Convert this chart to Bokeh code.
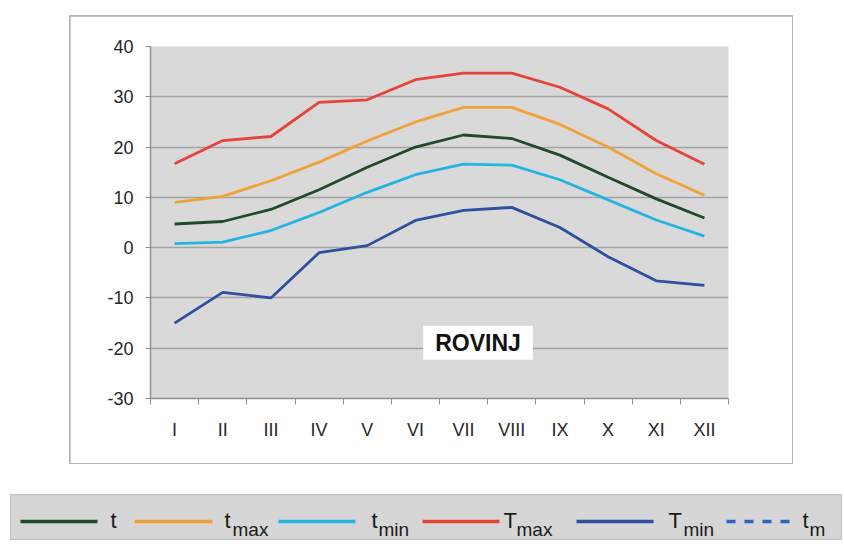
from bokeh.plotting import figure
from bokeh.models import Range1d, FixedTicker, Label
from bokeh.core.properties import value
from bokeh.embed import file_html
from bokeh.resources import INLINE

# ---- data ----
months = ["I", "II", "III", "IV", "V", "VI", "VII", "VIII", "IX", "X", "XI", "XII"]
t_mean = [4.7, 5.2, 7.6, 11.5, 16.0, 20.0, 22.4, 21.7, 18.4, 14.0, 9.7, 5.9]
t_max = [9.0, 10.2, 13.3, 17.0, 21.2, 25.0, 27.9, 27.9, 24.5, 20.0, 14.7, 10.4]
t_min = [0.8, 1.1, 3.4, 7.0, 11.0, 14.5, 16.6, 16.4, 13.5, 9.5, 5.5, 2.3]
T_max = [16.7, 21.3, 22.1, 28.9, 29.4, 33.4, 34.7, 34.7, 31.9, 27.6, 21.3, 16.6]
T_min = [-15.0, -8.9, -10.0, -1.0, 0.4, 5.4, 7.4, 8.0, 4.0, -1.8, -6.6, -7.5]
y_ticks = [-30, -20, -10, 0, 10, 20, 30, 40]
title_text = "ROVINJ"

colors = {"t": "#1f4a2b", "tmax": "#f0a23a", "tmin": "#25b4e2",
          "Tmax": "#e8433b", "Tmin": "#2e509f", "tm": "#2f63c0"}

FONT = "Liberation Sans"
NARROW = "Liberation Sans Narrow, Liberation Sans"

x = list(range(1, len(months) + 1))

# chart area: canvas = outer chart frame
p = figure(width=722, height=447, output_backend="svg", toolbar_location=None,
           x_range=Range1d(0.5, len(months) + 0.5), y_range=Range1d(y_ticks[0], y_ticks[-1]),
           min_border_left=80, min_border_right=64, min_border_top=30, min_border_bottom=65,
           margin=(16, 0, 0, 70))
p.styles = {"outline": "2px solid #b5b5b5", "outline-offset": "-1px"}
p.background_fill_color = "#d9d9d9"
p.border_fill_color = "white"
p.outline_line_color = None

p.xgrid.visible = False
p.ygrid.ticker = FixedTicker(ticks=y_ticks)
p.ygrid.grid_line_color = "#a3a3a3"
p.ygrid.grid_line_width = 1.5

ya = p.yaxis[0]
ya.ticker = FixedTicker(ticks=y_ticks)
ya.major_label_overrides = {v: str(v) for v in y_ticks}
ya.major_label_text_font = FONT
ya.major_label_text_font_size = "18px"
ya.major_label_text_color = "#262626"
ya.axis_line_color = "#8f8f8f"
ya.axis_line_width = 1.5
ya.major_tick_line_color = "#8f8f8f"
ya.major_tick_out = 5
ya.major_tick_in = 0
ya.minor_tick_line_color = None
ya.major_label_standoff = 12

xa = p.xaxis[0]
xa.ticker = FixedTicker(ticks=x, minor_ticks=[i + 0.5 for i in range(0, len(months) + 1)])
xa.major_label_overrides = {i: m for i, m in zip(x, months)}
xa.major_label_text_font = FONT
xa.major_label_text_font_size = "18px"
xa.major_label_text_color = "#262626"
xa.axis_line_color = "#8f8f8f"
xa.axis_line_width = 1.5
xa.major_tick_out = 0
xa.major_tick_in = 0
xa.minor_tick_line_color = "#8f8f8f"
xa.minor_tick_out = 6
xa.minor_tick_in = 0
xa.major_label_standoff = 15

for key, vals in [("Tmax", T_max), ("tmax", t_max), ("t", t_mean), ("tmin", t_min), ("Tmin", T_min)]:
    p.line(x, vals, line_color=colors[key], line_width=2.8)

p.add_layout(Label(x=7.3, y=-18.9, text=title_text, text_font=FONT, text_font_style="bold",
                   text_font_size="23px", text_color="#111111", text_align="center",
                   text_baseline="middle", background_fill_color="white",
                   padding=dict(left=12, right=12, top=4, bottom=4)))

# ---- legend strip (coordinates in page pixels) ----
leg_keys = ["t", "tmax", "tmin", "Tmax", "Tmin", "tm"]
leg_main = ["t", "t", "t", "T", "T", "t"]
leg_sub = ["", "max", "min", "max", "min", "m"]
leg_x0 = [20, 134, 278, 422, 576, 726]
leg_x1 = [97, 212, 355, 499, 653, 798]
leg_tx = [110, 224, 371, 503, 668, 802]
leg_sx = [116, 232, 378, 516, 683, 809]

leg = figure(width=832, height=46, output_backend="svg", toolbar_location=None,
             x_range=Range1d(10, 842), y_range=Range1d(540, 494),
             x_axis_location=None, y_axis_location=None,
             min_border_left=0, min_border_right=0, min_border_top=0, min_border_bottom=0,
             margin=(31, 0, 0, 10))
leg.grid.visible = False
leg.background_fill_color = "#d6d6d6"
leg.border_fill_color = "#d6d6d6"
leg.outline_line_color = "#c4c4c4"
leg.outline_line_width = 1.5

for i, k in enumerate(leg_keys):
    leg.segment(x0=[leg_x0[i]], y0=[521], x1=[leg_x1[i]], y1=[521], line_color=colors[k],
                line_width=3.5, line_dash="9 9" if k == "tm" else "solid")

leg.text(x=leg_tx, y=[520] * len(leg_main), text=leg_main, text_font=value(NARROW),
         text_font_size="22px", text_color="#1a1a1a", text_baseline="alphabetic")
leg.text(x=leg_sx, y=[529] * len(leg_sub), text=leg_sub, text_font=value(NARROW),
         text_font_size="19px", text_color="#1a1a1a", text_baseline="alphabetic")

open("out.html", "w").write(file_html([p, leg], INLINE))
